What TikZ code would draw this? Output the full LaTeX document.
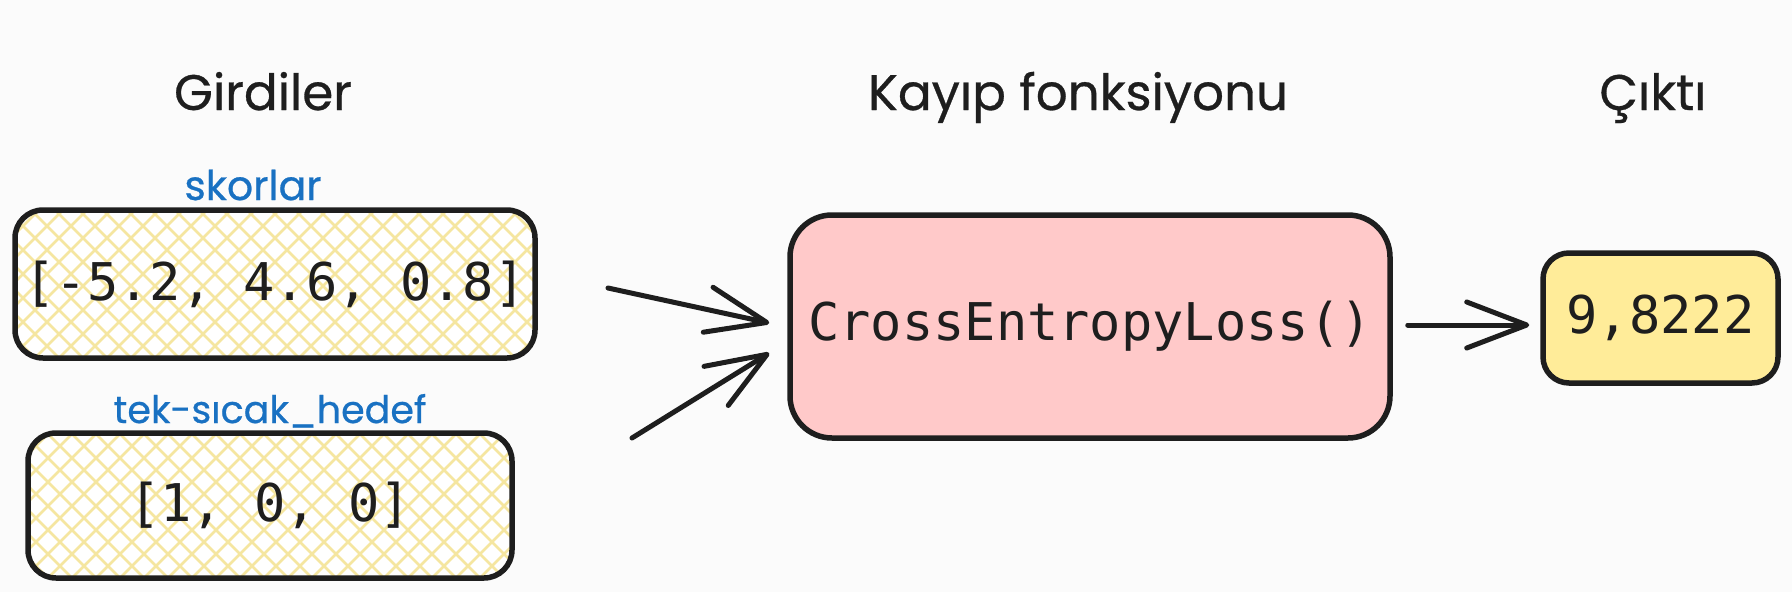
\documentclass[tikz,border=0pt]{standalone}
\usepackage{fontspec}
\usetikzlibrary{arrows.meta,calc}
\newfontfamily\handfont[FakeBold=0.6]{Poppins}
\newfontfamily\codefont{DejaVu Sans Mono}
\definecolor{ink}{HTML}{1E1E1E}
\definecolor{bluelbl}{HTML}{1971C2}
\definecolor{pinkfill}{HTML}{FFC9C9}
\definecolor{yellowfill}{HTML}{FFEC99}
\definecolor{hatchcol}{HTML}{F5E6A0}
\definecolor{bgcol}{HTML}{FBFBFB}
\tikzset{
  title/.style={anchor=base, inner sep=0pt, text=ink, font=\handfont\fontsize{50pt}{58pt}\selectfont},
  lbl/.style={anchor=base, inner sep=0pt, text=bluelbl, font=\handfont\fontsize{41pt}{48pt}\selectfont},
  codetext/.style={inner sep=0pt, text=ink, font=\codefont\fontsize{52pt}{62pt}\selectfont},
  hatchline/.style={draw=hatchcol, line width=2.8pt},
  hatchfill/.style={path picture={
      \foreach \k in {-220,-196,...,760}{
        \draw[hatchline] ([xshift=\k pt]path picture bounding box.south west) -- ++(260pt,260pt);
        \draw[hatchline] ([xshift=\k pt]path picture bounding box.south west) -- ++(-260pt,260pt);
      }}},
  inbox/.style={codetext, draw=ink, line width=5.5pt, rounded corners=28pt, fill=white, hatchfill},
  lossbox/.style={codetext, draw=ink, line width=5.5pt, rounded corners=42pt, fill=pinkfill},
  outbox/.style={codetext, draw=ink, line width=5.5pt, rounded corners=26pt, fill=yellowfill},
  flow/.style={draw=ink, line width=5pt, line cap=round,
    -{Straight Barb[length=60pt 0, width=46pt 0, round]}}
}
\begin{document}
\begin{tikzpicture}[x=1pt,y=-1pt]
  \fill[bgcol] (0,0) rectangle (1792,592);
  \useasboundingbox (0,0) rectangle (1792,592);

  % titles
  \node[title] (tin)  at (263,110)  {Girdiler};
  \node[title] (tfn)  at (1078,110) {Kayıp fonksiyonu};
  \node[title] (tout) at (1653,110) {Çıktı};

  % labels
  \node[lbl] (lsk) at (253,200) {skorlar};
  \node[lbl, font=\handfont\fontsize{38pt}{46pt}\selectfont] (lth) at (270,423) {tek-sıcak\_hedef};

  % boxes
  \node[inbox, minimum width=520pt, minimum height=148pt] (sc) at (275,284) {[-5.2, 4.6, 0.8]};
  \node[inbox, minimum width=484pt, minimum height=145pt] (oh) at (270,505.5) {[1, 0, 0]};
  \node[lossbox, minimum width=600pt, minimum height=223pt] (loss) at (1090,326.5) {CrossEntropyLoss()};
  \node[outbox, minimum width=235pt, minimum height=130pt] (out) at (1660.5,318) {9,8222};

  % arrows
  \coordinate (t1) at (608,288);
  \coordinate (t2) at (632,438);
  \draw[flow] (t1) -- ([xshift=-18pt,yshift=3.5pt]loss.west);
  \draw[flow] (t2) -- ([xshift=-18pt,yshift=-26.5pt]loss.west);
  \draw[flow] ([xshift=15pt,yshift=1.5pt]loss.east) -- ([xshift=-11pt,yshift=1.5pt]loss.east -| out.west);
\end{tikzpicture}
\end{document}
